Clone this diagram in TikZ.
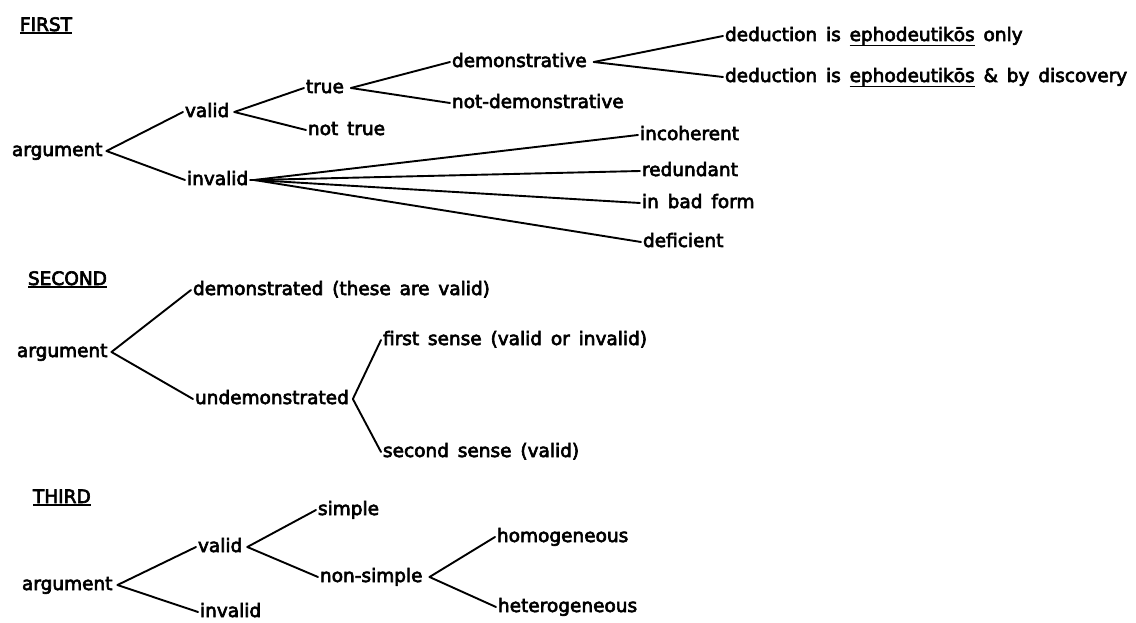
\documentclass[tikz,border=0pt]{standalone}
\usepackage{fontspec}
\setmainfont{DejaVu Sans}[WordSpace=1.5, FakeBold=3.5]
\newcommand\myul[2][-5.5pt]{\setbox0\hbox{#2}\rlap{\rule[#1]{\wd0}{1.6pt}}\box0\relax}
\begin{document}
\begin{tikzpicture}[x=1pt,y=-1pt,
  every node/.style={font=\fontsize{18.5}{22}\selectfont, inner sep=0pt, outer xsep=2pt, outer ysep=0pt, anchor=west, text height=10pt, text depth=0pt},
  head/.style={anchor=base west},
  conn/.style={line width=1.9pt, line cap=round}]
\fill[white] (0,0) rectangle (1136,623);
\useasboundingbox (0,0) rectangle (1136,623);
% FIRST
\node[head] (h1) at (18,31) {\myul[-3pt]{FIRST}};
\node (a1) at (10,151) {argument};
\node (v1) at (183,112) {valid};
\node (i1) at (185,180) {invalid};
\node (t1) at (304,88) {true};
\node (nt1) at (306,130) {not true};
\node (d1) at (450,62) {demonstrative};
\node (nd1) at (450,103) {not-demonstrative};
\node (e1) at (723,36) {deduction is \myul{ephodeutikōs} only};
\node (e2) at (723,77) {deduction is \myul{ephodeutikōs} \& by discovery};
\node (inc) at (638,135) {incoherent};
\node (red) at (640,171) {redundant};
\node (bad) at (640,203) {in bad form};
\node (def) at (641,242) {deficient};
\draw[conn] ([xshift=2pt]a1.east) -- (v1.west);
\draw[conn] ([xshift=2pt]a1.east) -- (i1.west);
\draw[conn] ([xshift=3pt]v1.east) -- (t1.west);
\draw[conn] ([xshift=3pt]v1.east) -- (nt1.west);
\draw[conn] ([xshift=5pt]t1.east) -- (d1.west);
\draw[conn] ([xshift=5pt]t1.east) -- (nd1.west);
\draw[conn] ([xshift=5pt]d1.east) -- (e1.west);
\draw[conn] ([xshift=5pt]d1.east) -- (e2.west);
\draw[conn] (i1.east) -- ([xshift=6pt]i1.east);
\draw[conn] ([xshift=4pt]i1.east) -- (inc.west);
\draw[conn] ([xshift=4pt]i1.east) -- (red.west);
\draw[conn] ([xshift=4pt]i1.east) -- (bad.west);
\draw[conn] ([xshift=4pt]i1.east) -- (def.west);
% SECOND
\node[head] (h2) at (26,285) {\myul[-3pt]{SECOND}};
\node (a2) at (15,352) {argument};
\node (dm2) at (191,290) {demonstrated (these are valid)};
\node (ud2) at (193,399) {undemonstrated};
\node (fs2) at (381,340) {first sense (valid or invalid)};
\node (ss2) at (381,452) {second sense (valid)};
\draw[conn] ([xshift=2pt]a2.east) -- (dm2.west);
\draw[conn] ([xshift=2pt]a2.east) -- (ud2.west);
\draw[conn] ([xshift=2pt]ud2.east) -- (fs2.west);
\draw[conn] ([xshift=2pt]ud2.east) -- (ss2.west);
% THIRD
\node[head] (h3) at (31,503) {\myul[-3pt]{THIRD}};
\node (a3) at (20,585) {argument};
\node (v3) at (196,547) {valid};
\node (i3) at (198,612) {invalid};
\node (s3) at (316,510) {simple};
\node (ns3) at (318,577) {non-simple};
\node (ho3) at (495,537) {homogeneous};
\node (he3) at (496,607) {heterogeneous};
\draw[conn] ([xshift=3pt]a3.east) -- (v3.west);
\draw[conn] ([xshift=3pt]a3.east) -- (i3.west);
\draw[conn] ([xshift=3pt]v3.east) -- (s3.west);
\draw[conn] ([xshift=3pt]v3.east) -- (ns3.west);
\draw[conn] ([xshift=5pt]ns3.east) -- (ho3.west);
\draw[conn] ([xshift=5pt]ns3.east) -- (he3.west);
\end{tikzpicture}
\end{document}
